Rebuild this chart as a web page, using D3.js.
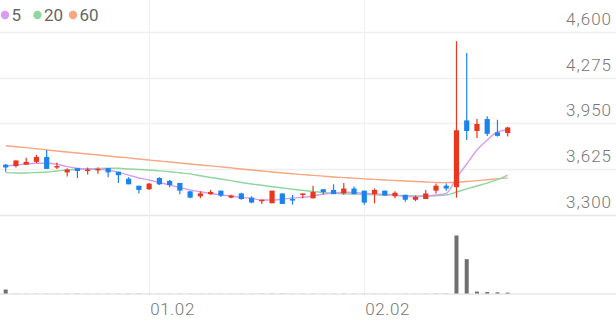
<!DOCTYPE html>
<html>
<head>
<meta charset="utf-8">
<script src="https://cdn.jsdelivr.net/npm/d3@7"></script>
<style>
  body { margin: 0; background: #fff; }
  svg { display: block; font-family: Roboto, sans-serif; }
</style>
</head>
<body>
<div id="chart"></div>
<script>
// trading days (MM.DD)
var dates = ["12.12","12.13","12.14","12.15","12.16","12.19","12.20","12.21","12.22","12.23",
  "12.26","12.27","12.28","12.29","01.02","01.03","01.04","01.05","01.06","01.09",
  "01.10","01.11","01.12","01.13","01.16","01.17","01.18","01.19","01.20","01.25",
  "01.26","01.27","01.30","01.31","02.01","02.02","02.03","02.06","02.07","02.08",
  "02.09","02.10","02.13","02.14","02.15","02.16","02.17","02.20","02.21","02.22"];

var open  = [3655,3645,3655,3675,3710,3640,3600,3630,3615,3615,3630,3605,3555,3505,3480,3560,3540,3525,3465,3430,
             3445,3470,3420,3450,3420,3395,3380,3450,3410,3440,3415,3480,3475,3450,3485,3470,3445,3470,3430,3440,
             3405,3410,3470,3505,3495,3970,3895,3980,3885,3880];
var high  = [3660,3685,3705,3725,3760,3670,3630,3630,3635,3635,3630,3605,3565,3505,3525,3565,3545,3525,3470,3465,
             3475,3470,3440,3455,3430,3405,3470,3450,3440,3450,3505,3480,3515,3525,3500,3470,3485,3470,3465,3440,
             3435,3475,3520,3520,4535,4450,3980,4000,3975,3925];
var low   = [3605,3635,3655,3665,3625,3625,3570,3560,3585,3590,3565,3525,3515,3450,3475,3510,3495,3445,3415,3415,
             3440,3425,3415,3405,3380,3375,3380,3375,3370,3415,3415,3440,3445,3440,3445,3370,3380,3435,3415,3390,
             3395,3410,3450,3470,3420,3830,3845,3860,3855,3855];
var close = [3635,3685,3675,3710,3625,3645,3620,3610,3620,3625,3600,3580,3515,3475,3520,3515,3510,3470,3420,3450,
             3460,3435,3435,3410,3385,3405,3470,3375,3400,3450,3460,3460,3445,3485,3445,3385,3475,3435,3455,3405,
             3425,3450,3505,3485,3900,3895,3945,3875,3860,3920];
var volume = [330000,6000,5000,7000,8000,4000,9000,11000,7000,5000,6000,10000,12000,11000,7000,6000,5000,6000,8000,5000,
              6000,5000,6000,7000,9000,10000,12000,11000,9000,8000,9000,9000,8000,10000,9000,8000,7000,6000,5000,6000,
              7000,9000,12000,13000,4850000,2870000,160000,120000,95000,70000];

// moving averages
var ma5  = [3646,3653,3660,3665,3665,3658,3641,3629,3622,3622,3617,3600,3581,3560,3546,3528,3510,3492,3475,3462,
            3450,3439,3432,3421,3415,3403,3403,3410,3418,3423,3432,3446,3453,3458,3457,3451,3446,3443,3439,3428,
            3427,3432,3439,3451,3560,3660,3759,3831,3888,3902];
var ma20 = [3598,3596,3596,3599,3603,3610,3617,3622,3626,3628,3629,3629,3624,3621,3617,3611,3605,3597,3589,3576,
            3564,3553,3541,3528,3517,3508,3498,3489,3480,3472,3464,3457,3451,3447,3445,3443,3440,3439,3438,3435,
            3433,3432,3434,3439,3460,3482,3503,3524,3549,3581];
var ma60 = [3790,3783,3776,3768,3760,3752,3745,3738,3731,3724,3717,3710,3703,3695,3688,3681,3674,3667,3660,3653,
            3646,3639,3632,3624,3617,3610,3603,3596,3590,3584,3579,3573,3567,3563,3559,3554,3550,3546,3542,3539,
            3535,3532,3529,3527,3530,3535,3541,3548,3554,3561];

var priceTicks = [3300, 3625, 3950, 4275, 4600];
var dateTicks = ["01.02", "02.02"];
var maNames = ["5", "20", "60"];
var maColors = ["#d99cf0", "#8fd6a0", "#f8a683"];

var width = 616, height = 321;
var upColor = "#e8371c", downColor = "#1a84ee";

var svg = d3.select("#chart").append("svg")
    .attr("width", width)
    .attr("height", height);

var x = d3.scalePoint().domain(dates).range([5.7, 507.7]);
var y = d3.scaleLinear().domain([3300, 4600]).range([214.5, 32]);
var yVol = d3.scaleLinear().domain([0, d3.max(volume)]).range([293.5, 235.5]);

// grid
svg.selectAll(".hgrid").data(priceTicks).enter().append("line")
    .attr("x1", 0).attr("x2", width)
    .attr("y1", function(d) { return Math.round(y(d)) + 0.5; })
    .attr("y2", function(d) { return Math.round(y(d)) + 0.5; })
    .attr("stroke", function(d) { return d === 3300 ? "#e6e6e6" : "#f0f0f0"; })
    .attr("stroke-width", 1.5);

svg.selectAll(".vgrid").data(dateTicks).enter().append("line")
    .attr("x1", function(d) { return Math.round(x(d)) + 0.5; })
    .attr("x2", function(d) { return Math.round(x(d)) + 0.5; })
    .attr("y1", 0).attr("y2", yVol(0))
    .attr("stroke", "#f0f0f0")
    .attr("stroke-width", 1);

svg.append("line")
    .attr("x1", 0).attr("x2", width)
    .attr("y1", yVol(0) + 0.5).attr("y2", yVol(0) + 0.5)
    .attr("stroke", "#e6e6e6")
    .attr("stroke-width", 1.5);

// price labels
svg.selectAll(".plabel").data(priceTicks).enter().append("text")
    .attr("x", 612)
    .attr("y", function(d) { return y(d) - 7; })
    .attr("text-anchor", "end")
    .attr("font-size", 17)
    .attr("font-weight", 300)
    .attr("letter-spacing", 1)
    .attr("fill", "#777")
    .text(d3.format(","));

// date labels
svg.selectAll(".dlabel").data(dateTicks).enter().append("text")
    .attr("x", function(d) { return x(d) + 1; })
    .attr("y", 315)
    .attr("font-size", 17)
    .attr("font-weight", 300)
    .attr("letter-spacing", 0.6)
    .attr("fill", "#777")
    .text(function(d) { return d; });

// volume
svg.selectAll(".vol").data(volume).enter().append("rect")
    .attr("x", function(d, i) { return x(dates[i]) - 2; })
    .attr("y", function(d) { return yVol(d); })
    .attr("width", 4)
    .attr("height", function(d) { return yVol(0) - yVol(d); })
    .attr("fill", "#6f6f6f");

// moving averages
var maSeries = [ma60, ma20, ma5];
var maCol = [maColors[2], maColors[1], maColors[0]];
var line = d3.line()
    .x(function(d, i) { return x(dates[i]); })
    .y(function(d) { return y(d); })
    .curve(d3.curveMonotoneX);

maSeries.forEach(function(s, k) {
    svg.append("path")
        .attr("d", line(s))
        .attr("fill", "none")
        .attr("stroke", maCol[k])
        .attr("stroke-width", 1.4);
});

// candles
var idx = d3.range(dates.length);
var candle = svg.selectAll(".candle").data(idx).enter().append("g");

candle.append("line")
    .attr("x1", function(i) { return x(dates[i]); })
    .attr("x2", function(i) { return x(dates[i]); })
    .attr("y1", function(i) { return y(high[i]); })
    .attr("y2", function(i) { return y(low[i]); })
    .attr("stroke", function(i) { return close[i] >= open[i] ? upColor : downColor; })
    .attr("stroke-width", 1.2);

candle.append("rect")
    .attr("x", function(i) { return x(dates[i]) - 2.6; })
    .attr("width", 5.2)
    .attr("y", function(i) { return y(Math.max(open[i], close[i])); })
    .attr("height", function(i) { return Math.max(1.5, Math.abs(y(open[i]) - y(close[i]))); })
    .attr("fill", function(i) { return close[i] >= open[i] ? upColor : downColor; });

// legend
var lx = [5, 37.5, 73];
var legend = svg.selectAll(".legend").data(maNames).enter().append("g")
    .attr("transform", function(d, i) { return "translate(" + lx[i] + ",15)"; });
legend.append("circle")
    .attr("r", 4.2)
    .attr("fill", function(d, i) { return maColors[i]; });
legend.append("text")
    .attr("x", 6.5)
    .attr("y", 6)
    .attr("font-size", 17)
    .attr("font-weight", 400)
    .attr("fill", "#666")
    .text(function(d) { return d; });
</script>
</body>
</html>
